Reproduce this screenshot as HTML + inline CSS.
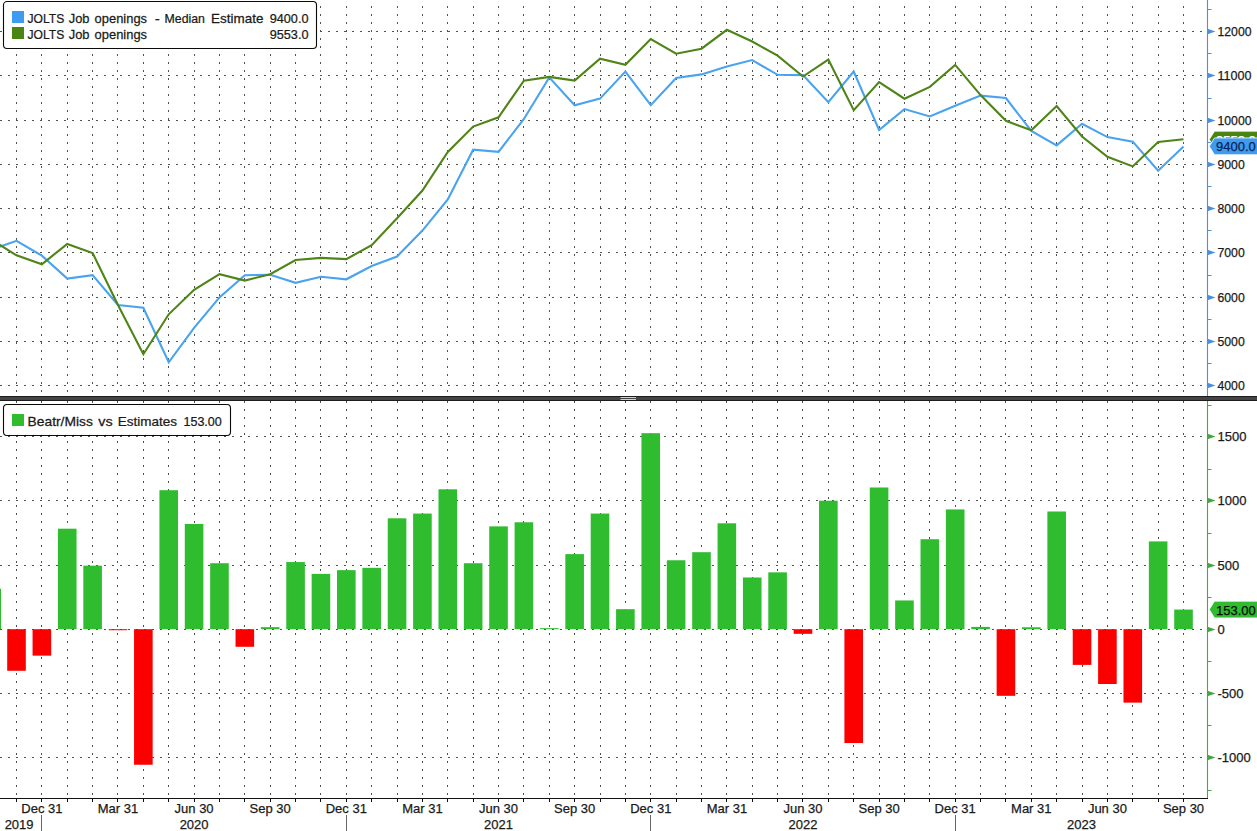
<!DOCTYPE html><html><head><meta charset="utf-8"><style>html,body{margin:0;padding:0;background:#fff;overflow:hidden}svg{display:block}text{font-family:'Liberation Sans',sans-serif;font-size:13px;fill:#1a1a1a;stroke:#1a1a1a;stroke-width:0.25px}</style></head><body>
<svg width="1257" height="831" viewBox="0 0 1257 831">
<rect width="1257" height="831" fill="#fff"/>
<g stroke="#505050" stroke-width="1" stroke-dasharray="2 6" fill="none">
<path d="M16.5 -2V396M41.5 -2V396M67.5 -2V396M92.5 -2V396M117.5 -2V396M143.5 -2V396M168.5 -2V396M194.5 -2V396M219.5 -2V396M244.5 -2V396M270.5 -2V396M295.5 -2V396M320.5 -2V396M346.5 -2V396M371.5 -2V396M397.5 -2V396M422.5 -2V396M447.5 -2V396M473.5 -2V396M498.5 -2V396M523.5 -2V396M549.5 -2V396M574.5 -2V396M600.5 -2V396M625.5 -2V396M650.5 -2V396M676.5 -2V396M701.5 -2V396M726.5 -2V396M752.5 -2V396M777.5 -2V396M802.5 -2V396M828.5 -2V396M853.5 -2V396M879.5 -2V396M904.5 -2V396M929.5 -2V396M955.5 -2V396M980.5 -2V396M1005.5 -2V396M1031.5 -2V396M1056.5 -2V396M1082.5 -2V396M1107.5 -2V396M1132.5 -2V396M1158.5 -2V396M1183.5 -2V396"/>
<path d="M16.5 401V798M41.5 401V798M67.5 401V798M92.5 401V798M117.5 401V798M143.5 401V798M168.5 401V798M194.5 401V798M219.5 401V798M244.5 401V798M270.5 401V798M295.5 401V798M320.5 401V798M346.5 401V798M371.5 401V798M397.5 401V798M422.5 401V798M447.5 401V798M473.5 401V798M498.5 401V798M523.5 401V798M549.5 401V798M574.5 401V798M600.5 401V798M625.5 401V798M650.5 401V798M676.5 401V798M701.5 401V798M726.5 401V798M752.5 401V798M777.5 401V798M802.5 401V798M828.5 401V798M853.5 401V798M879.5 401V798M904.5 401V798M929.5 401V798M955.5 401V798M980.5 401V798M1005.5 401V798M1031.5 401V798M1056.5 401V798M1082.5 401V798M1107.5 401V798M1132.5 401V798M1158.5 401V798M1183.5 401V798"/>
<path d="M0 31.5H1207M0 75.5H1207M0 120.5H1207M0 164.5H1207M0 208.5H1207M0 252.5H1207M0 297.5H1207M0 341.5H1207M0 385.5H1207M0 436.5H1207M0 500.5H1207M0 565.5H1207M0 629.5H1207M0 693.5H1207M0 757.5H1207"/>
</g>
<g>
<rect x="-17.60" y="588.77" width="18.6" height="40.43" fill="#2fbd2f"/>
<rect x="7.20" y="629.20" width="18.6" height="41.59" fill="#fc0000"/>
<rect x="32.57" y="629.20" width="18.6" height="26.44" fill="#fc0000"/>
<rect x="57.94" y="528.69" width="18.6" height="100.51" fill="#2fbd2f"/>
<rect x="83.31" y="565.66" width="18.6" height="63.54" fill="#2fbd2f"/>
<rect x="108.68" y="629.20" width="18.6" height="1.03" fill="#fc0000"/>
<rect x="134.05" y="629.20" width="18.6" height="135.55" fill="#fc0000"/>
<rect x="159.42" y="490.19" width="18.6" height="139.01" fill="#2fbd2f"/>
<rect x="184.79" y="523.94" width="18.6" height="105.26" fill="#2fbd2f"/>
<rect x="210.16" y="563.22" width="18.6" height="65.98" fill="#2fbd2f"/>
<rect x="235.53" y="629.20" width="18.6" height="17.59" fill="#fc0000"/>
<rect x="260.90" y="627.15" width="18.6" height="2.05" fill="#2fbd2f"/>
<rect x="286.27" y="562.07" width="18.6" height="67.13" fill="#2fbd2f"/>
<rect x="311.64" y="573.88" width="18.6" height="55.32" fill="#2fbd2f"/>
<rect x="337.01" y="570.15" width="18.6" height="59.05" fill="#2fbd2f"/>
<rect x="362.38" y="567.84" width="18.6" height="61.36" fill="#2fbd2f"/>
<rect x="387.75" y="518.30" width="18.6" height="110.90" fill="#2fbd2f"/>
<rect x="413.12" y="513.55" width="18.6" height="115.65" fill="#2fbd2f"/>
<rect x="438.49" y="489.29" width="18.6" height="139.91" fill="#2fbd2f"/>
<rect x="463.86" y="563.22" width="18.6" height="65.98" fill="#2fbd2f"/>
<rect x="489.23" y="526.38" width="18.6" height="102.82" fill="#2fbd2f"/>
<rect x="514.60" y="522.28" width="18.6" height="106.92" fill="#2fbd2f"/>
<rect x="539.97" y="628.17" width="18.6" height="1.03" fill="#2fbd2f"/>
<rect x="565.34" y="554.11" width="18.6" height="75.09" fill="#2fbd2f"/>
<rect x="590.71" y="513.55" width="18.6" height="115.65" fill="#2fbd2f"/>
<rect x="616.08" y="609.18" width="18.6" height="20.02" fill="#2fbd2f"/>
<rect x="641.45" y="433.19" width="18.6" height="196.01" fill="#2fbd2f"/>
<rect x="666.82" y="560.27" width="18.6" height="68.93" fill="#2fbd2f"/>
<rect x="692.19" y="552.18" width="18.6" height="77.02" fill="#2fbd2f"/>
<rect x="717.56" y="523.30" width="18.6" height="105.90" fill="#2fbd2f"/>
<rect x="742.93" y="577.47" width="18.6" height="51.73" fill="#2fbd2f"/>
<rect x="768.30" y="572.34" width="18.6" height="56.86" fill="#2fbd2f"/>
<rect x="793.67" y="629.20" width="18.6" height="4.62" fill="#fc0000"/>
<rect x="819.04" y="500.71" width="18.6" height="128.49" fill="#2fbd2f"/>
<rect x="844.41" y="629.20" width="18.6" height="113.86" fill="#fc0000"/>
<rect x="869.78" y="487.49" width="18.6" height="141.71" fill="#2fbd2f"/>
<rect x="895.15" y="600.45" width="18.6" height="28.75" fill="#2fbd2f"/>
<rect x="920.52" y="539.22" width="18.6" height="89.98" fill="#2fbd2f"/>
<rect x="945.89" y="509.44" width="18.6" height="119.76" fill="#2fbd2f"/>
<rect x="971.26" y="626.89" width="18.6" height="2.31" fill="#2fbd2f"/>
<rect x="996.63" y="629.20" width="18.6" height="66.62" fill="#fc0000"/>
<rect x="1022.00" y="627.27" width="18.6" height="1.93" fill="#2fbd2f"/>
<rect x="1047.37" y="511.49" width="18.6" height="117.71" fill="#2fbd2f"/>
<rect x="1072.74" y="629.20" width="18.6" height="35.68" fill="#fc0000"/>
<rect x="1098.11" y="629.20" width="18.6" height="54.81" fill="#fc0000"/>
<rect x="1123.48" y="629.20" width="18.6" height="73.42" fill="#fc0000"/>
<rect x="1148.85" y="541.40" width="18.6" height="87.80" fill="#2fbd2f"/>
<rect x="1174.22" y="609.56" width="18.6" height="19.64" fill="#2fbd2f"/>
</g>
<svg x="0" y="0" width="1207" height="396" overflow="hidden">
<polyline points="-8.87,249.80 16.50,240.80 41.87,255.70 67.24,278.60 92.61,275.10 117.98,305.00 143.35,307.80 168.72,362.30 194.09,327.80 219.46,297.40 244.83,275.20 270.20,274.70 295.57,282.80 320.94,276.70 346.31,279.30 371.68,266.00 397.05,256.50 422.42,230.60 447.79,199.50 473.16,149.70 498.53,151.90 523.90,119.00 549.27,77.40 574.64,105.20 600.01,98.60 625.38,71.60 650.75,105.20 676.12,78.00 701.49,74.40 726.86,66.60 752.23,60.10 777.60,74.80 802.97,75.10 828.34,102.20 853.71,71.60 879.08,130.00 904.45,109.10 929.82,116.50 955.19,105.70 980.56,95.60 1005.93,98.00 1031.30,131.00 1056.67,145.40 1082.04,123.70 1107.41,137.10 1132.78,141.60 1158.15,170.80 1183.52,146.40" fill="none" stroke="#4aa3ee" stroke-width="2.1" stroke-linejoin="miter" stroke-miterlimit="3"/>
<polyline points="-8.87,239.40 16.50,255.30 41.87,264.20 67.24,244.00 92.61,253.00 117.98,305.00 143.35,354.20 168.72,314.30 194.09,289.80 219.46,274.20 244.83,280.60 270.20,274.20 295.57,260.00 320.94,257.90 346.31,259.10 371.68,245.20 397.05,218.30 422.42,190.50 447.79,151.90 473.16,126.60 498.53,117.30 523.90,80.60 549.27,76.90 574.64,80.60 600.01,58.70 625.38,64.80 650.75,39.10 676.12,53.70 701.49,48.70 726.86,29.80 752.23,41.50 777.60,55.70 802.97,76.50 828.34,59.60 853.71,110.20 879.08,82.00 904.45,98.70 929.82,86.90 955.19,64.90 980.56,95.10 1005.93,120.80 1031.30,130.20 1056.67,106.00 1082.04,136.50 1107.41,156.80 1132.78,166.40 1158.15,141.90 1183.52,139.30" fill="none" stroke="#4f8417" stroke-width="2.1" stroke-linejoin="miter" stroke-miterlimit="3"/>
</svg>
<rect x="0" y="396" width="1257" height="5" fill="#444"/>
<rect x="0" y="396" width="1257" height="1" fill="#1c1c1c"/><rect x="0" y="400" width="1257" height="1" fill="#1c1c1c"/>
<rect x="620.5" y="397" width="15.5" height="1" fill="#d0d0d0"/><rect x="620.5" y="399" width="15.5" height="1" fill="#d0d0d0"/>
<path d="M1207.5 0V396" stroke="#5490cc" stroke-width="1.1"/>
<path d="M1207.5 401V798.5" stroke="#4aa64a" stroke-width="1.1"/>
<path d="M1207.5 28.7L1215.5 31.5L1207.5 34.3Z" fill="#4a8fdc"/>
<text x="1217.5" y="36.3" textLength="34" lengthAdjust="spacingAndGlyphs">12000</text>
<path d="M1207.5 72.7L1215.5 75.5L1207.5 78.3Z" fill="#4a8fdc"/>
<text x="1217.5" y="80.3" textLength="34" lengthAdjust="spacingAndGlyphs">11000</text>
<path d="M1207.5 117.7L1215.5 120.5L1207.5 123.3Z" fill="#4a8fdc"/>
<text x="1217.5" y="125.3" textLength="34" lengthAdjust="spacingAndGlyphs">10000</text>
<path d="M1207.5 161.7L1215.5 164.5L1207.5 167.3Z" fill="#4a8fdc"/>
<text x="1217.5" y="169.3" textLength="27.2" lengthAdjust="spacingAndGlyphs">9000</text>
<path d="M1207.5 205.7L1215.5 208.5L1207.5 211.3Z" fill="#4a8fdc"/>
<text x="1217.5" y="213.3" textLength="27.2" lengthAdjust="spacingAndGlyphs">8000</text>
<path d="M1207.5 249.7L1215.5 252.5L1207.5 255.3Z" fill="#4a8fdc"/>
<text x="1217.5" y="257.3" textLength="27.2" lengthAdjust="spacingAndGlyphs">7000</text>
<path d="M1207.5 294.7L1215.5 297.5L1207.5 300.3Z" fill="#4a8fdc"/>
<text x="1217.5" y="302.3" textLength="27.2" lengthAdjust="spacingAndGlyphs">6000</text>
<path d="M1207.5 338.7L1215.5 341.5L1207.5 344.3Z" fill="#4a8fdc"/>
<text x="1217.5" y="346.3" textLength="27.2" lengthAdjust="spacingAndGlyphs">5000</text>
<path d="M1207.5 382.7L1215.5 385.5L1207.5 388.3Z" fill="#4a8fdc"/>
<text x="1217.5" y="390.3" textLength="27.2" lengthAdjust="spacingAndGlyphs">4000</text>
<path d="M1207.5 363.5H1211.5" stroke="#5490cc" stroke-width="1"/>
<path d="M1207.5 319.5H1211.5" stroke="#5490cc" stroke-width="1"/>
<path d="M1207.5 275.5H1211.5" stroke="#5490cc" stroke-width="1"/>
<path d="M1207.5 230.5H1211.5" stroke="#5490cc" stroke-width="1"/>
<path d="M1207.5 186.5H1211.5" stroke="#5490cc" stroke-width="1"/>
<path d="M1207.5 142.5H1211.5" stroke="#5490cc" stroke-width="1"/>
<path d="M1207.5 98.5H1211.5" stroke="#5490cc" stroke-width="1"/>
<path d="M1207.5 53.5H1211.5" stroke="#5490cc" stroke-width="1"/>
<path d="M1207.5 9.5H1211.5" stroke="#5490cc" stroke-width="1"/>
<path d="M1207.5 433.7L1215.5 436.5L1207.5 439.3Z" fill="#3fa83f"/>
<text x="1217.5" y="441.3">1500</text>
<path d="M1207.5 497.7L1215.5 500.5L1207.5 503.3Z" fill="#3fa83f"/>
<text x="1217.5" y="505.3">1000</text>
<path d="M1207.5 562.7L1215.5 565.5L1207.5 568.3Z" fill="#3fa83f"/>
<text x="1217.5" y="570.3">500</text>
<path d="M1207.5 626.7L1215.5 629.5L1207.5 632.3Z" fill="#3fa83f"/>
<text x="1217.5" y="634.3">0</text>
<path d="M1207.5 690.7L1215.5 693.5L1207.5 696.3Z" fill="#3fa83f"/>
<text x="1217.5" y="698.3">-500</text>
<path d="M1207.5 754.7L1215.5 757.5L1207.5 760.3Z" fill="#3fa83f"/>
<text x="1217.5" y="762.3">-1000</text>
<path d="M1207.5 405.5H1211.5" stroke="#4aa64a" stroke-width="1"/>
<path d="M1207.5 469.5H1211.5" stroke="#4aa64a" stroke-width="1"/>
<path d="M1207.5 533.5H1211.5" stroke="#4aa64a" stroke-width="1"/>
<path d="M1207.5 597.5H1211.5" stroke="#4aa64a" stroke-width="1"/>
<path d="M1207.5 661.5H1211.5" stroke="#4aa64a" stroke-width="1"/>
<path d="M1207.5 725.5H1211.5" stroke="#4aa64a" stroke-width="1"/>
<path d="M1207.5 790.5H1211.5" stroke="#4aa64a" stroke-width="1"/>
<path d="M1209.3 139.57975000000002L1214.5 131.17975H1262V147.97975000000002H1214.5Z" fill="#4a8512" stroke="#fff" stroke-width="0.8"/><text x="1216" y="144.5" style="fill:#ffffff;stroke:#ffffff">9553.0</text>
<path d="M1209.3 146.35000000000002L1214.5 137.95000000000002H1262V154.75000000000003H1214.5Z" fill="#3d9bf0" stroke="#fff" stroke-width="0.8"/><text x="1216" y="151.3" style="fill:#0d1f55;stroke:#0d1f55">9400.0</text>
<path d="M1209.3 609.56092L1214.5 601.16092H1262V617.96092H1214.5Z" fill="#2fbd2f" stroke="#fff" stroke-width="0.8"/><text x="1216" y="614.5" style="fill:#0a0a0a;stroke:#0a0a0a">153.00</text>
<path d="M0 798.5H1208" stroke="#111" stroke-width="1.2"/>
<path d="M16.5 798V802M41.5 798V802M67.5 798V802M92.5 798V802M117.5 798V802M143.5 798V802M168.5 798V802M194.5 798V802M219.5 798V802M244.5 798V802M270.5 798V802M295.5 798V802M320.5 798V802M346.5 798V802M371.5 798V802M397.5 798V802M422.5 798V802M447.5 798V802M473.5 798V802M498.5 798V802M523.5 798V802M549.5 798V802M574.5 798V802M600.5 798V802M625.5 798V802M650.5 798V802M676.5 798V802M701.5 798V802M726.5 798V802M752.5 798V802M777.5 798V802M802.5 798V802M828.5 798V802M853.5 798V802M879.5 798V802M904.5 798V802M929.5 798V802M955.5 798V802M980.5 798V802M1005.5 798V802M1031.5 798V802M1056.5 798V802M1082.5 798V802M1107.5 798V802M1132.5 798V802M1158.5 798V802M1183.5 798V802" stroke="#111" stroke-width="1"/>
<text x="41.9" y="812.8" text-anchor="middle">Dec 31</text>
<text x="118.0" y="812.8" text-anchor="middle">Mar 31</text>
<text x="194.1" y="812.8" text-anchor="middle">Jun 30</text>
<text x="270.2" y="812.8" text-anchor="middle">Sep 30</text>
<text x="346.3" y="812.8" text-anchor="middle">Dec 31</text>
<text x="422.4" y="812.8" text-anchor="middle">Mar 31</text>
<text x="498.5" y="812.8" text-anchor="middle">Jun 30</text>
<text x="574.6" y="812.8" text-anchor="middle">Sep 30</text>
<text x="650.8" y="812.8" text-anchor="middle">Dec 31</text>
<text x="726.9" y="812.8" text-anchor="middle">Mar 31</text>
<text x="803.0" y="812.8" text-anchor="middle">Jun 30</text>
<text x="879.1" y="812.8" text-anchor="middle">Sep 30</text>
<text x="955.2" y="812.8" text-anchor="middle">Dec 31</text>
<text x="1031.3" y="812.8" text-anchor="middle">Mar 31</text>
<text x="1107.4" y="812.8" text-anchor="middle">Jun 30</text>
<text x="1183.5" y="812.8" text-anchor="middle">Sep 30</text>
<path d="M41.5 815V831" stroke="#666" stroke-width="1"/>
<path d="M346.5 815V831" stroke="#666" stroke-width="1"/>
<path d="M650.5 815V831" stroke="#666" stroke-width="1"/>
<path d="M955.5 815V831" stroke="#666" stroke-width="1"/>
<text x="19.1" y="828.6" text-anchor="middle">2019</text>
<text x="194.1" y="828.6" text-anchor="middle">2020</text>
<text x="498.5" y="828.6" text-anchor="middle">2021</text>
<text x="803" y="828.6" text-anchor="middle">2022</text>
<text x="1081.4" y="828.6" text-anchor="middle">2023</text>
<rect x="3.5" y="1.5" width="313" height="47" rx="3.5" fill="#fff" stroke="#0a0a0a" stroke-width="1.1"/>
<rect x="12" y="11" width="12" height="12" fill="#3d9bf0"/>
<rect x="12" y="27" width="12" height="12" fill="#4a8512"/>
<text transform="translate(27.54,22.7) scale(0.9299,1)">JOLTS</text>
<text transform="translate(68.70,22.7) scale(0.9903,1)">Job</text>
<text transform="translate(94.60,22.7) scale(0.9943,1)">openings</text>
<text transform="translate(27.54,38.7) scale(0.9299,1)">JOLTS</text>
<text transform="translate(68.70,38.7) scale(0.9903,1)">Job</text>
<text transform="translate(94.60,38.7) scale(0.9943,1)">openings</text>
<text transform="translate(154.73,22.7) scale(1.1667,1)">-</text>
<text transform="translate(164.54,22.7) scale(0.9479,1)">Median</text>
<text transform="translate(211.08,22.7) scale(1.0338,1)">Estimate</text>
<text transform="translate(269.71,22.7) scale(0.9747,1)">9400.0</text>
<text transform="translate(269.71,38.7) scale(0.9747,1)">9553.0</text>
<rect x="3.5" y="404.5" width="227" height="31" rx="3.5" fill="#fff" stroke="#0a0a0a" stroke-width="1.1"/>
<rect x="12" y="414" width="12" height="12" fill="#2fbd2f"/>
<text transform="translate(27.55,425.6) scale(1.0637,1)">Beatr/Miss</text>
<text transform="translate(98.28,425.6) scale(1.1094,1)">vs</text>
<text transform="translate(117.87,425.6) scale(1.0373,1)">Estimates</text>
<text transform="translate(183.44,425.6) scale(0.9665,1)">153.00</text>
</svg></body></html>
